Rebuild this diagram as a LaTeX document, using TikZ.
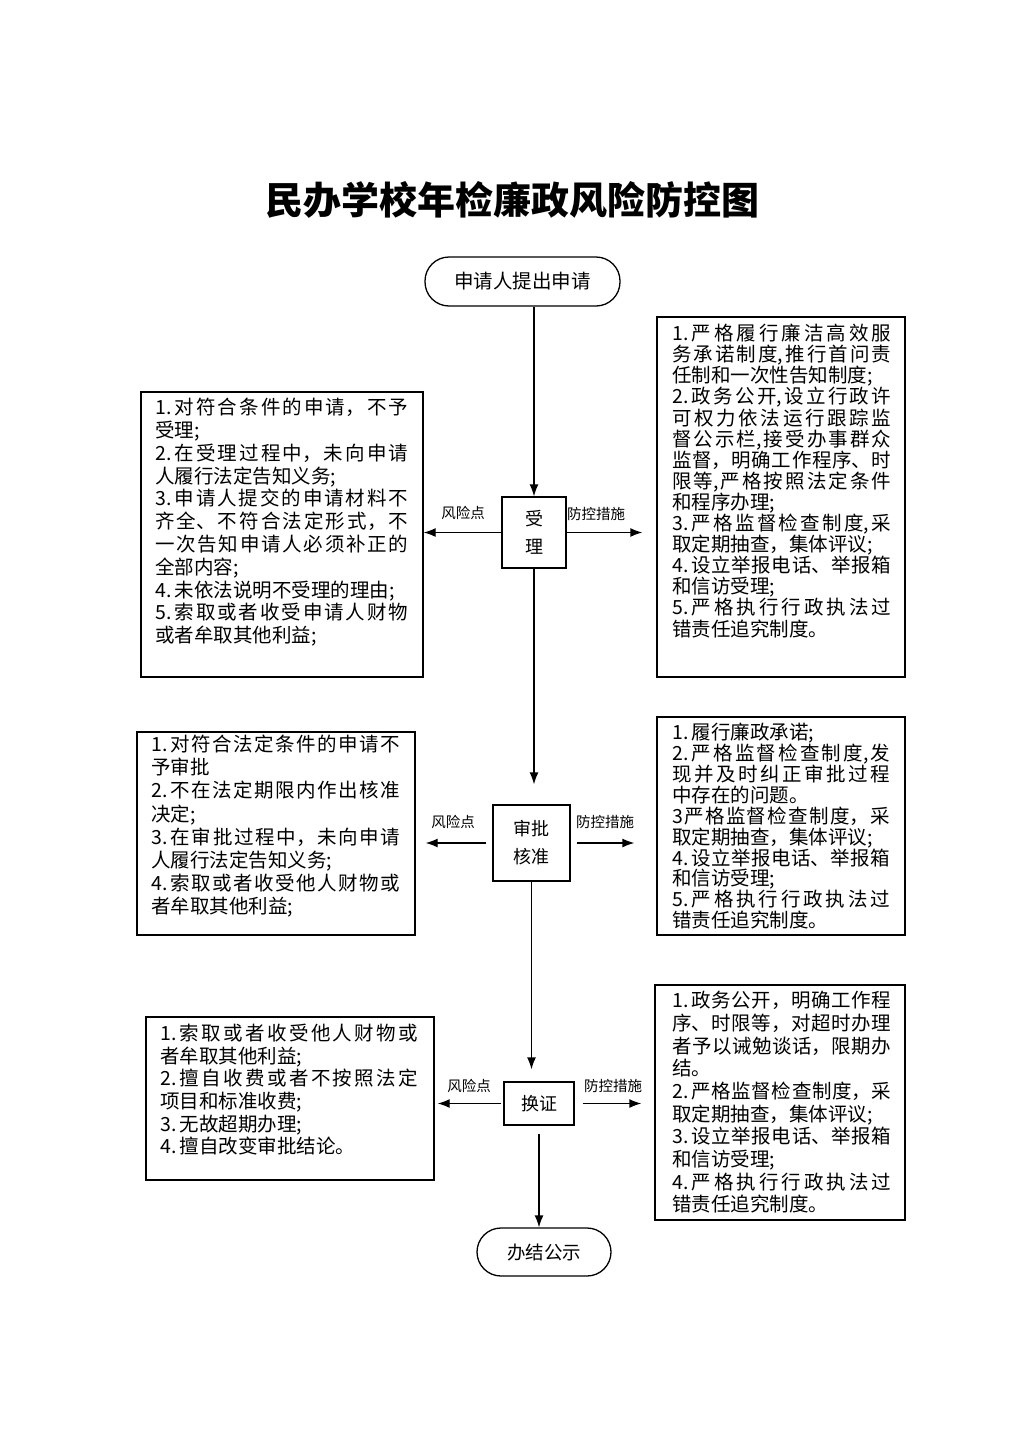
\documentclass[tikz,border=0pt]{standalone}
\usepackage{fontspec}
\setmainfont{Noto Sans CJK SC}
\usetikzlibrary{arrows.meta}
\XeTeXlinebreaklocale "zh"
\XeTeXlinebreakskip=0pt plus 4pt

\newlength{\du}
\setlength{\du}{1pt}
\newcommand{\listfont}[1]{\fontsize{19.5\du}{#1\du}\selectfont\parindent=0pt\tolerance=10000\hbadness=10000}

\tikzset{
  flowline/.style={line width=1.3pt, -{Latex[length=12pt,width=9pt]}},
  procbox/.style={draw, line width=1.3\du, inner sep=0pt, align=center,
    font=\fontsize{18\du}{28\du}\selectfont},
  termbox/.style={procbox, rounded corners=24\du, font=\fontsize{19.5\du}{22\du}\selectfont},
  listbox/.style={draw, line width=1.3\du, inner sep=0pt},
  listtext/.style={anchor=north west, align=justify, inner sep=0pt},
  tagtext/.style={font=\fontsize{14.5\du}{16\du}\selectfont, inner sep=0pt}
}

\begin{document}
\begin{tikzpicture}
\pgftransformxscale{1.000000}
\pgftransformyscale{-1.000000}
\useasboundingbox (0\du,0\du) rectangle (1024\du,1448\du);
% title
\node[font=\fontsize{38\du}{40\du}\selectfont\bfseries] (title) at (512\du,200\du){民办学校年检廉政风险防控图};
% main flow
\node[termbox, minimum width=195\du, minimum height=49\du] (apply) at (522.5\du,281.5\du){申请人提出申请};
\node[procbox, minimum width=64\du, minimum height=71\du] (accept) at (534\du,532.5\du){受\\理};
\node[procbox, minimum width=77\du, minimum height=76\du] (approve) at (531.5\du,843\du){审批\\核准};
\node[procbox, minimum width=70\du, minimum height=43\du] (renew) at (539\du,1103.5\du){换证};
\node[termbox, minimum width=134\du, minimum height=48\du, font=\fontsize{18.5\du}{22\du}\selectfont] (finish) at (544\du,1252\du){办结公示};
% risk boxes
\node[listbox, minimum width=282\du, minimum height=285\du] (risk1) at (282\du,534.5\du){};
\node[listtext, text width=253\du, font=\listfont{22.8}] (risk1txt) at (155\du,398\du){1.\,对符合条件的申请，不予\linebreak
受理;\par
2.\,在受理过程中，未向申请\linebreak
人履行法定告知义务;\par
3.\,申请人提交的申请材料不\linebreak
齐全、不符合法定形式，不\linebreak
一次告知申请人必须补正的\linebreak
全部内容;\par
4.\,未依法说明不受理的理由;\par
5.\,索取或者收受申请人财物\linebreak
或者牟取其他利益;};
\node[listbox, minimum width=278\du, minimum height=203\du] (risk2) at (276\du,833.5\du){};
\node[listtext, text width=249\du, font=\listfont{23.1}] (risk2txt) at (151\du,735\du){1.\,对符合法定条件的申请不\linebreak
予审批\par
2.\,不在法定期限内作出核准\linebreak
决定;\par
3.\,在审批过程中，未向申请\linebreak
人履行法定告知义务;\par
4.\,索取或者收受他人财物或\linebreak
者牟取其他利益;};
\node[listbox, minimum width=288\du, minimum height=163\du] (risk3) at (290\du,1098.5\du){};
\node[listtext, text width=258\du, font=\listfont{22.6}] (risk3txt) at (160\du,1024\du){1.\,索取或者收受他人财物或\linebreak
者牟取其他利益;\par
2.\,擅自收费或者不按照法定\linebreak
项目和标准收费;\par
3.\,无故超期办理;\par
4.\,擅自改变审批结论。};
% control boxes
\node[listbox, minimum width=248\du, minimum height=360\du] (ctrl1) at (781\du,497\du){};
\node[listtext, text width=219\du, font=\listfont{21.1}] (ctrl1txt) at (672\du,324\du){1.\,严格履行廉洁高效服\linebreak
务承诺制度,推行首问责\linebreak
任制和一次性告知制度;\par
2.\,政务公开,设立行政许\linebreak
可权力依法运行跟踪监\linebreak
督公示栏,接受办事群众\linebreak
监督，明确工作程序、时\linebreak
限等,严格按照法定条件\linebreak
和程序办理;\par
3.\,严格监督检查制度,采\linebreak
取定期抽查，集体评议;\par
4.\,设立举报电话、举报箱\linebreak
和信访受理;\par
5.\,严格执行行政执法过\linebreak
错责任追究制度。};
\node[listbox, minimum width=248\du, minimum height=218\du] (ctrl2) at (781\du,826\du){};
\node[listtext, text width=218\du, font=\listfont{20.9}] (ctrl2txt) at (672\du,723\du){1.\,履行廉政承诺;\par
2.\,严格监督检查制度,发\linebreak
现并及时纠正审批过程\linebreak
中存在的问题。\par
3严格监督检查制度，采\linebreak
取定期抽查，集体评议;\par
4.\,设立举报电话、举报箱\linebreak
和信访受理;\par
5.\,严格执行行政执法过\linebreak
错责任追究制度。};
\node[listbox, minimum width=250\du, minimum height=235\du] (ctrl3) at (780\du,1102.5\du){};
\node[listtext, text width=219\du, font=\listfont{22.7}] (ctrl3txt) at (672\du,991\du){1.\,政务公开，明确工作程\linebreak
序、时限等，对超时办理\linebreak
者予以诫勉谈话，限期办\linebreak
结。\par
2.\,严格监督检查制度，采\linebreak
取定期抽查，集体评议;\par
3.\,设立举报电话、举报箱\linebreak
和信访受理;\par
4.\,严格执行行政执法过\linebreak
错责任追究制度。};
% vertical arrows
\draw[flowline] (apply.south -| accept) -- (accept.north);
\draw[flowline, shorten >=20pt] (accept.south) -- (accept.south |- approve.north);
\draw[flowline, shorten >=12pt] (approve.south) -- (approve.south |- renew.north);
\draw[flowline, shorten <=8pt] (renew.south) -- (renew.south |- finish.north);
% side arrows
\draw[flowline] (accept.west) -- (accept.west -| risk1.east);
\draw[flowline, shorten >=14pt] (accept.east) -- (accept.east -| ctrl1.west);
\draw[flowline, shorten <=6pt, shorten >=10pt] (approve.west) -- (approve.west -| risk2.east);
\draw[flowline, shorten <=6pt, shorten >=22pt] (approve.east) -- (approve.east -| ctrl2.west);
\draw[flowline, shorten <=2pt, shorten >=3pt] (renew.west) -- (renew.west -| risk3.east);
\draw[flowline, shorten <=8pt, shorten >=13pt] (renew.east) -- (renew.east -| ctrl3.west);
% labels
\node[tagtext] (risk1tag) at (463\du,513\du){风险点};
\node[tagtext] (ctrl1tag) at (596\du,514\du){防控措施};
\node[tagtext] (risk2tag) at (453\du,822\du){风险点};
\node[tagtext] (ctrl2tag) at (605\du,822\du){防控措施};
\node[tagtext] (risk3tag) at (469\du,1086\du){风险点};
\node[tagtext] (ctrl3tag) at (613\du,1086\du){防控措施};
\end{tikzpicture}
\end{document}
